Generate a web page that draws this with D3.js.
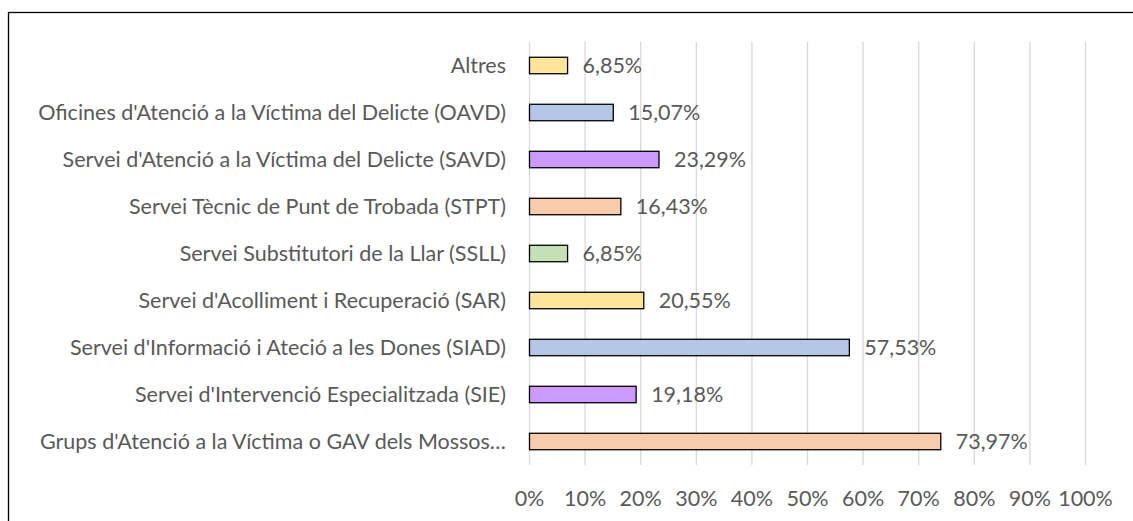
<!DOCTYPE html>
<html>
<head>
<meta charset="utf-8">
<script src="https://cdn.jsdelivr.net/npm/d3@7"></script>
<style>
  body { margin: 0; background: #fff; }
  text { font-family: Lato, "Open Sans", sans-serif; fill: #595959; }
</style>
</head>
<body>
<script>
// data (top to bottom as in the chart)
const categories = [
    "Altres",
    "Oficines d'Atenció a la Víctima del Delicte (OAVD)",
    "Servei d'Atenció a la Víctima del Delicte (SAVD)",
    "Servei Tècnic de Punt de Trobada (STPT)",
    "Servei Substitutori de la Llar (SSLL)",
    "Servei d'Acolliment i Recuperació (SAR)",
    "Servei d'Informació i Ateció a les Dones (SIAD)",
    "Servei d'Intervenció Especialitzada (SIE)",
    "Grups d'Atenció a la Víctima o GAV dels Mossos…"
]
const values = [6.85, 15.07, 23.29, 16.43, 6.85, 20.55, 57.53, 19.18, 73.97]
const barColors = ["#FFE699", "#B4C7E7", "#CC99FF", "#F8CBAD", "#C5E0B4", "#FFE699", "#B4C7E7", "#CC99FF", "#F8CBAD"]
const ticks = [0, 10, 20, 30, 40, 50, 60, 70, 80, 90, 100]

const width = 1133
const height = 521
const fontSize = 21.5

const svg = d3.select("body")
    .append("svg")
    .attr("width", width)
    .attr("height", height)

// chart border (top + left visible)
svg.append("rect")
    .attr("x", 8.5)
    .attr("y", 12.5)
    .attr("width", 1140)
    .attr("height", 540)
    .attr("fill", "none")
    .attr("stroke", "#000")
    .attr("stroke-width", 1.3)

const x = d3.scaleLinear()
    .domain([0, 100])
    .range([529.5, 1085.5])

const y = d3.scaleBand()
    .domain(categories)
    .range([42, 465])
    .paddingInner(0.65)
    .paddingOuter(0.325)

// gridlines
svg.append("g")
    .selectAll("line")
    .data(ticks)
    .join("line")
    .attr("x1", d => x(d))
    .attr("x2", d => x(d))
    .attr("y1", 42)
    .attr("y2", 465)
    .attr("stroke", "#D9D9D9")
    .attr("stroke-width", 1.3)

// x tick labels
svg.append("g")
    .selectAll("text")
    .data(ticks)
    .join("text")
    .attr("x", d => x(d))
    .attr("y", 498)
    .attr("dy", "0.35em")
    .attr("text-anchor", "middle")
    .style("font-size", fontSize + "px")
    .text(d => d + "%")

// category labels
svg.append("g")
    .selectAll("text")
    .data(categories)
    .join("text")
    .attr("x", 506)
    .attr("y", d => y(d) + y.bandwidth() / 2)
    .attr("dy", "0.35em")
    .attr("text-anchor", "end")
    .style("font-size", fontSize + "px")
    .text(d => d)

// bars
svg.append("g")
    .selectAll("rect")
    .data(values)
    .join("rect")
    .attr("x", x(0))
    .attr("y", (d, i) => y(categories[i]))
    .attr("width", d => x(d) - x(0))
    .attr("height", y.bandwidth())
    .attr("fill", (d, i) => barColors[i])
    .attr("stroke", "#000")
    .attr("stroke-width", 1.3)

// value labels
svg.append("g")
    .selectAll("text")
    .data(values)
    .join("text")
    .attr("x", d => x(d) + 15)
    .attr("y", (d, i) => y(categories[i]) + y.bandwidth() / 2)
    .attr("dy", "0.35em")
    .style("font-size", fontSize + "px")
    .text(d => d.toFixed(2).replace(".", ",") + "%")
</script>
</body>
</html>
